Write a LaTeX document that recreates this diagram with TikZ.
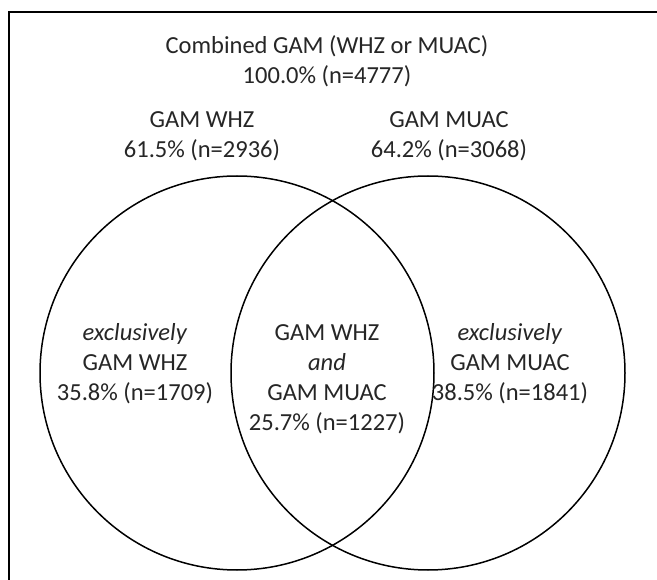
\documentclass[tikz,border=0pt]{standalone}
\usepackage{fontspec}
\setmainfont{Carlito}
\begin{document}
\begin{tikzpicture}[x=1pt,y=-1pt,
  lbl/.style={align=center,inner sep=0pt,text=black!85,font=\fontsize{24.5}{30}\selectfont},
  setc/.style={circle,draw=black,line width=1.5pt,minimum size=394pt,inner sep=0pt},
  frame/.style={draw=black,line width=2pt}]
\useasboundingbox (0,0) rectangle (657,580);
\fill[white] (0,0) rectangle (657,580);
\coordinate (fb) at (9,581);
\coordinate (fc) at (9,12);
\coordinate (fr) at (658,12);
\draw[frame] (fb) -- (fc) -- (fr);
\node[setc] (L) at (237,373) {};
\node[setc] (R) at (428,373) {};
\node[lbl] (top) at (327,61.5) {Combined GAM (WHZ or MUAC)\\100.0\% (n=4777)};
\node[lbl] (whz) at (202,136) {GAM WHZ\\61.5\% (n=2936)};
\node[lbl] (muac) at (449,136) {GAM MUAC\\64.2\% (n=3068)};
\node[lbl] (exl) at (135,364) {\textit{exclusively}\\GAM WHZ\\35.8\% (n=1709)};
\node[lbl] (both) at (327,379) {GAM WHZ\\\textit{and}\\GAM MUAC\\25.7\% (n=1227)};
\node[lbl] (exr) at (510,364) {\textit{exclusively}\\GAM MUAC\\38.5\% (n=1841)};
\end{tikzpicture}
\end{document}
